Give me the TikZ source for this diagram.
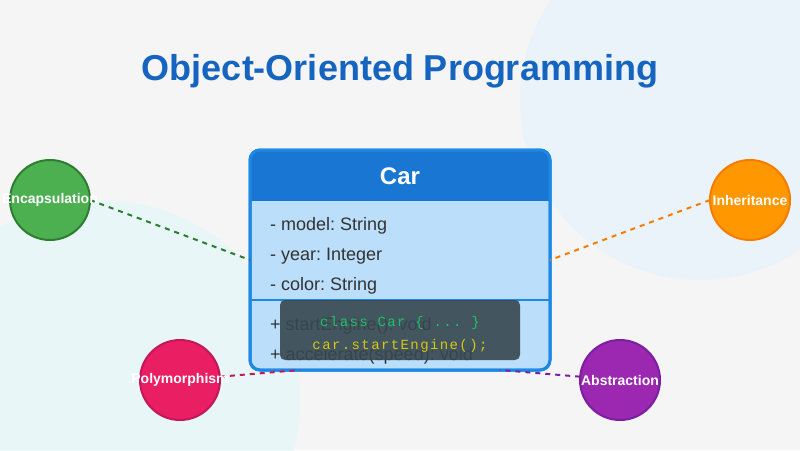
\documentclass[tikz,border=0pt]{standalone}
\usepackage{fontspec}
\setmainfont{Liberation Sans}
\setmonofont{Liberation Mono}
\usepackage{tikz}
\usetikzlibrary{positioning}
\usepackage{xcolor}
\definecolor{pagebg}{HTML}{F5F5F5}
\definecolor{blobblue}{HTML}{E3F2FD}
\definecolor{blobcyan}{HTML}{E0F7FA}
\definecolor{titleblue}{HTML}{1565C0}
\definecolor{headblue}{HTML}{1976D2}
\definecolor{edgeblue}{HTML}{1E88E5}
\definecolor{bodyblue}{HTML}{BBDEFB}
\definecolor{textgray}{HTML}{333333}
\definecolor{codebg}{HTML}{37474F}
\definecolor{codegreen}{HTML}{1DC463}
\definecolor{codeyellow}{HTML}{D8C80F}
\definecolor{encfill}{HTML}{4CAF50}
\definecolor{encedge}{HTML}{2E7D32}
\definecolor{inhfill}{HTML}{FF9800}
\definecolor{inhedge}{HTML}{F57C00}
\definecolor{polyfill}{HTML}{E91E63}
\definecolor{polyedge}{HTML}{C2185B}
\definecolor{absfill}{HTML}{9C27B0}
\definecolor{absedge}{HTML}{7B1FA2}
\newcommand{\pxsize}[1]{\fontsize{#1}{#1}\selectfont}
\newcommand{\codefont}{\ttfamily\addfontfeature{LetterSpace=10}\pxsize{14}}
\frenchspacing

\begin{document}
\begin{tikzpicture}[x=1pt,y=-1pt,
  topic/.style={circle,minimum size=80pt,inner sep=0pt,outer sep=0pt,line width=2pt},
  topictext/.style={text=white,inner sep=0pt,font=\pxsize{14}\bfseries},
  member/.style={anchor=base west,inner sep=0pt,text=textgray,font=\pxsize{18}},
  link/.style={line width=2pt,dash pattern=on 5pt off 5pt}]
\clip (0,0) rectangle (800,450);
\fill[pagebg] (0,0) rectangle (800,450);
\fill[blobblue,opacity=0.6] (700,100) circle[radius=180];
\fill[blobcyan,opacity=0.6] (100,400) circle[radius=200];

\draw (400,80) node[anchor=base,text=titleblue,font=\pxsize{36}\bfseries](title) {Object-Oriented Programming};

\draw (400,260) node[draw=edgeblue,fill=bodyblue,line width=3pt,rounded corners=10pt,
  minimum width=300pt,minimum height=220pt,outer sep=0pt](carbox) {};
\begin{scope}
\clip (240,140) rectangle (560,200);
\fill[headblue,rounded corners=10pt] (250,150) rectangle (550,230);
\end{scope}
\draw[edgeblue,line width=3pt,rounded corners=10pt] (250,150) rectangle (550,370);
\draw[edgeblue,line width=2pt] (carbox.west |- 0,300) -- (carbox.east |- 0,300);
\draw (400,184) node[anchor=base,text=white,font=\pxsize{24}\bfseries](classname) {Car};

\draw (270,230) node[member](model) {- model: String};
\draw (270,260) node[member](year) {- year: Integer};
\draw (270,290) node[member](color) {- color: String};
\draw (270,330) node[member](start) {+ startEngine(): void};
\draw (270,360) node[member](accel) {+ accelerate(speed): void};

\draw (400,330) node[fill=codebg,fill opacity=0.9,rounded corners=5pt,
  minimum width=240pt,minimum height=60pt,outer sep=0pt](code) {};
\draw (400,326) node[anchor=base,inner sep=0pt,text=codegreen,font=\codefont](codeline) {class Car \{ ... \}};
\draw (400,349) node[anchor=base,inner sep=0pt,text=codeyellow,font=\codefont](callline) {car.startEngine();};

\draw (50,200) node[topic,fill=encfill,draw=encedge](encap) {};
\draw (750,200) node[topic,fill=inhfill,draw=inhedge](inherit) {};
\draw (180,380) node[topic,fill=polyfill,draw=polyedge](poly) {};
\draw (620,380) node[topic,fill=absfill,draw=absedge](abstr) {};

\draw[link,encedge] (encap.east) -- (carbox.west);
\draw[link,inhedge] (inherit.west) -- (carbox.east);
\draw[link,polyedge] (poly) -- ([xshift=-100pt]carbox.south);
\draw[link,absedge] (abstr) -- ([xshift=100pt]carbox.south);

\draw (encap) node[topictext] {Encapsulation};
\draw (inherit) node[topictext] {Inheritance};
\draw (poly) node[topictext] {Polymorphism};
\draw (abstr) node[topictext] {Abstraction};
\end{tikzpicture}
\end{document}
